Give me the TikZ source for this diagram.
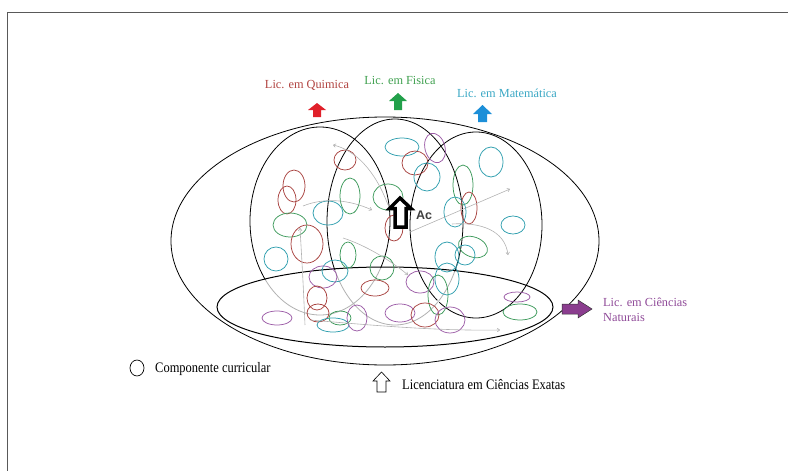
\documentclass[tikz,border=0pt]{standalone}
\usepackage{fontspec}
\setmainfont{Liberation Serif}
\newfontfamily\stserif[FakeStretch=0.86]{Liberation Serif}
\newfontfamily\acfont{Liberation Sans}
\usetikzlibrary{arrows.meta}
\definecolor{cred}{HTML}{A8423F}
\definecolor{cgreen}{HTML}{3E9A5C}
\definecolor{ccyan}{HTML}{2E9EAE}
\definecolor{cpurp}{HTML}{9B5BA6}
\definecolor{tred}{HTML}{B0413E}
\definecolor{tgreen}{HTML}{3FA04F}
\definecolor{tcyan}{HTML}{39A7C4}
\definecolor{tpurp}{HTML}{8F4A98}
\definecolor{ared}{HTML}{E0202A}
\definecolor{agreen}{HTML}{22A04A}
\definecolor{ablue}{HTML}{1C8FD8}
\definecolor{apurp}{HTML}{8B3D8F}
\tikzset{
  comp/.style={line width=0.75pt},
  bigell/.style={line width=0.8pt, black},
  flow/.style={gray!60, line width=0.6pt, -{To[length=3pt,width=4pt]}},
  coltext/.style={inner sep=0pt, font=\fontsize{12.3}{14}\selectfont},
  blktext/.style={inner sep=0pt, font=\stserif\fontsize{14.5}{16}\selectfont},
}
\begin{document}
\begin{tikzpicture}[x=1pt,y=-1pt]
\useasboundingbox (0,0) rectangle (788,471);
% frame
\draw[gray!70!black, line width=1pt] (788,12) -- (7,12) -- (7,471);

% outer ellipse
\draw[bigell] (385,241) ellipse (214 and 124);
% vertical ellipses
\draw[bigell] (320,221) ellipse (70 and 94);
\draw[bigell] (395,222) ellipse (68 and 103);
\draw[bigell] (476,225) ellipse (66 and 93);
\begin{scope}
  \clip (385,307) ellipse (167 and 39);
  \draw[white, line width=2.5pt] (320,221) ellipse (70 and 94) (395,222) ellipse (68 and 103);
  \draw[gray!60, line width=0.8pt] (320,221) ellipse (70 and 94) (395,222) ellipse (68 and 103);
\end{scope}
% bottom ellipse
\draw[line width=1pt] (385,307) ellipse (168 and 40);

% components
\draw[comp, ccyan] (402,147) ellipse (17 and 9);
\draw[comp, cpurp, rotate around={15:(435,148)}] (435,148) ellipse (10 and 15);
\draw[comp, cred] (415,163) ellipse (13 and 12);
\draw[comp, ccyan] (427,177) ellipse (13 and 14);
\draw[comp, cred] (345,160) ellipse (11 and 10);
\draw[comp, ccyan] (491,162) ellipse (12 and 15);
\draw[comp, cgreen] (463,185) ellipse (10 and 20);
\draw[comp, cred] (294,186) ellipse (11 and 16);
\draw[comp, cred] (287,200) ellipse (9 and 14);
\draw[comp, cgreen] (350,196) ellipse (10 and 18);
\draw[comp, cgreen] (388,197) ellipse (15 and 13);
\draw[comp, ccyan] (328,213) ellipse (15 and 12);
\draw[comp, cgreen] (290,225) ellipse (17 and 12);
\draw[comp, cred] (307,244) ellipse (16 and 19);
\draw[comp, ccyan] (276,259) ellipse (12 and 12);
\draw[comp, cgreen] (348,255) ellipse (8 and 13);
\draw[comp, cred] (394,228) ellipse (9 and 13);
\draw[comp, ccyan] (455,212) ellipse (11 and 15);
\draw[comp, cred] (469,208) ellipse (8 and 16);
\draw[comp, ccyan] (513,225) ellipse (12 and 9);
\draw[comp, cgreen, rotate around={-20:(473,247)}] (473,247) ellipse (15 and 10);
\draw[comp, ccyan] (447,257) ellipse (12 and 15);
\draw[comp, ccyan] (465,255) ellipse (10 and 10);
\draw[comp, cgreen] (382,268) ellipse (12 and 12);
\draw[comp, ccyan] (335,271) ellipse (13 and 11);
\draw[comp, cpurp] (323,277) ellipse (14 and 11);
\draw[comp, cred] (375,288) ellipse (14 and 8);
\draw[comp, cpurp] (420,282) ellipse (14 and 11);
\draw[comp, ccyan] (447,279) ellipse (12 and 16);
\draw[comp, cgreen] (438,295) ellipse (10 and 20);
\draw[comp, cred] (317,298) ellipse (10 and 12);
\draw[comp, cred] (318,313) ellipse (11 and 9);
\draw[comp, cpurp] (277,318) ellipse (15 and 7);
\draw[comp, ccyan] (333,325) ellipse (16 and 7);
\draw[comp, cgreen] (340,318) ellipse (11 and 7);
\draw[comp, cpurp] (357,318) ellipse (10 and 13);
\draw[comp, cpurp] (400,313) ellipse (15 and 9);
\draw[comp, cred] (425,315) ellipse (14 and 12);
\draw[comp, cpurp] (450,320) ellipse (15 and 13);
\draw[comp, cpurp] (517,297) ellipse (13 and 5);
\draw[comp, cgreen] (520,312) ellipse (17 and 8);

% grey flows
\draw[flow] (388,205) .. controls (375,170) and (355,150) .. (333,145);
\draw[flow] (303,206) .. controls (325,197) and (350,200) .. (372,210);
\draw[flow] (410,232) -- (510,189);
\draw[flow] (452,224) .. controls (480,222) and (505,230) .. (508,255);
\draw[flow] (343,238) .. controls (365,245) and (390,260) .. (408,275);
\draw[flow] (310,320) .. controls (380,326) and (440,331) .. (500,330);
\draw[flow] (305,325) .. controls (303,280) .. (300,228);

% Ac arrow
\draw[line width=3.5pt, fill=white, line join=miter]
  (400,198) -- (411,208.5) -- (406,208.5) -- (406,227) -- (395,227) -- (395,208.5) -- (389.5,208.5) -- cycle;
\node[anchor=west, inner sep=0pt, text=black!75, font=\acfont\bfseries\fontsize{12.5}{14}\selectfont] (ac) at (416,215) {Ac};

% coloured arrows
\fill[ared] (317,103) -- (326,110) -- (321,110) -- (321,117) -- (313,117) -- (313,110) -- (308,110) -- cycle;
\fill[agreen] (398,93) -- (407,101) -- (402,101) -- (402,110) -- (394,110) -- (394,101) -- (389,101) -- cycle;
\fill[ablue] (482.5,105) -- (492,114) -- (487,114) -- (487,122) -- (478,122) -- (478,114) -- (473,114) -- cycle;
\fill[apurp] (592,309) -- (578,300) -- (578,304) -- (562,304) -- (562,314) -- (578,314) -- (578,318) -- cycle;
\draw[black!80, line width=0.5pt] (592,309) -- (578,300) -- (578,304) -- (562,304) -- (562,314) -- (578,314) -- (578,318) -- cycle;

% labels
\node[coltext, text=tred] (quim) at (307,85) {Lic. em Quimica};
\node[coltext, text=tgreen] (fis) at (400,81) {Lic. em Fisica};
\node[coltext, text=tcyan] (mat) at (507,93) {Lic. em Matemática};
\node[coltext, text=tpurp, anchor=west, align=left] (nat) at (603,310) {Lic. em Ciências\\[1pt]Naturais};

% legend
\draw[line width=0.7pt] (137,368) ellipse (7 and 8);
\node[blktext, anchor=west] (comp) at (155,369) {Componente curricular};
\draw[line width=0.6pt, fill=white] (381.5,372) -- (390,381) -- (386,381) -- (386,392) -- (377,392) -- (377,381) -- (373,381) -- cycle;
\node[blktext, anchor=west] (exatas) at (402,385) {Licenciatura em Ciências Exatas};
\end{tikzpicture}
\end{document}
